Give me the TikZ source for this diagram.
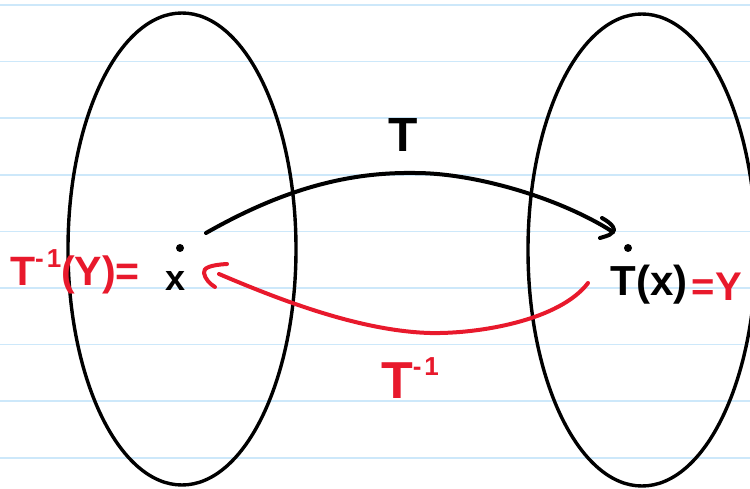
\documentclass[tikz,border=0pt]{standalone}
\usepackage{fontspec}
\setmainfont{Liberation Sans}
\usetikzlibrary{shapes.geometric,calc}
\definecolor{pen}{HTML}{E8192C}
\definecolor{ruleblue}{HTML}{CDE8FA}
\newcommand{\supm}{\raisebox{0.45em}{\fontsize{26}{26}\selectfont -\kern3pt1}}
\begin{document}
\begin{tikzpicture}[x=1pt,y=-1pt, line cap=round, line join=round,
  setoval/.style={draw=black, line width=3.4pt, ellipse, minimum width=228pt, minimum height=472pt, inner sep=0pt},
  ptdot/.style={circle, fill=black, inner sep=0pt, minimum size=8pt},
  ink/.style={line width=4pt},
  lbl/.style={inner sep=0pt, anchor=center},
]
\useasboundingbox (0,0) rectangle (750,489);
\fill[white] (0,0) rectangle (750,489);
\foreach \i in {0,...,8} \draw[ruleblue, line width=1.6pt] (0,{5+56.6*\i}) -- (750,{5+56.6*\i});

% sets
\node[setoval] (A) at (182,249) {};
\node[setoval] (B) at (642,250) {};

% points
\node[ptdot] (px) at (180,248) {};
\node[ptdot] (py) at (628,248) {};

% labels
\node[lbl, font=\bfseries\fontsize{36}{36}\selectfont] (xl) at (176,281) {x};
\node[lbl, text=pen, font=\bfseries\fontsize{41}{41}\selectfont] (tinvy) at (75,272) {T\supm(Y)=};
\node[lbl, font=\bfseries\fontsize{42}{42}\selectfont] (txl) at (649,285) {T(x)};
\node[lbl, text=pen, font=\bfseries\fontsize{40}{40}\selectfont] (eqy) at (717,287) {=Y};
\node[lbl, font=\bfseries\fontsize{48}{48}\selectfont] (tlab) at (403,135) {T};
\node[lbl, text=pen, font=\bfseries\fontsize{52}{52}\selectfont] (tinvlab) at (410,378) {T\supm};

% T arrow
\coordinate (s1) at (206,233);
\coordinate (e1) at (613,232);
\draw[ink] (s1) .. controls (285,188) and (350,172) .. (415,173)
  .. controls (475,173) and (560,198) .. (e1);
\draw[ink] ($(e1)+(-11,-14)$) .. controls ($(e1)+(0,-8)$) and ($(e1)+(3,-2)$) .. (e1)
  .. controls ($(e1)+(-3,3)$) .. ($(e1)+(-13,6)$);

% T^{-1} arrow
\coordinate (s2) at (588,283);
\coordinate (e2) at (219,274);
\draw[pen, ink] (s2) .. controls (560,320) and (480,334) .. (430,333)
  .. controls (360,331) and (280,300) .. (e2);
\draw[pen, ink] (227,264) .. controls (210,265) and (203,268) .. (204,273)
  .. controls (205,279) and (210,284) .. (215,287);
\end{tikzpicture}
\end{document}
